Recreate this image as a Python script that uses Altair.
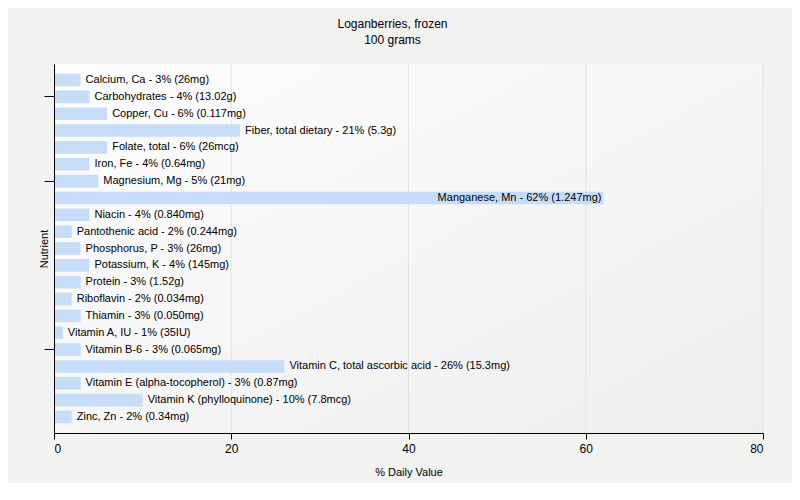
import altair as alt
import pandas as pd

nutrients = [
    "Calcium, Ca", "Carbohydrates", "Copper, Cu", "Fiber, total dietary", "Folate, total",
    "Iron, Fe", "Magnesium, Mg", "Manganese, Mn", "Niacin", "Pantothenic acid",
    "Phosphorus, P", "Potassium, K", "Protein", "Riboflavin", "Thiamin",
    "Vitamin A, IU", "Vitamin B-6", "Vitamin C, total ascorbic acid",
    "Vitamin E (alpha-tocopherol)", "Vitamin K (phylloquinone)", "Zinc, Zn",
]
daily_values = [3, 4, 6, 21, 6, 4, 5, 62, 4, 2, 3, 4, 3, 2, 3, 1, 3, 26, 3, 10, 2]
amounts = [
    "26mg", "13.02g", "0.117mg", "5.3g", "26mcg", "0.64mg", "21mg", "1.247mg", "0.840mg",
    "0.244mg", "26mg", "145mg", "1.52g", "0.034mg", "0.050mg", "35IU", "0.065mg",
    "15.3mg", "0.87mg", "7.8mcg", "0.34mg",
]
tick_nutrients = ["Carbohydrates", "Magnesium, Mg", "Vitamin B-6"]
inside_nutrients = ["Manganese, Mn"]
x_ticks = [0, 20, 40, 60, 80]
grid_values = [20, 40, 60, 80]

df = pd.DataFrame({"nutrient": nutrients, "dv": daily_values, "amount": amounts})
df["label"] = df["nutrient"] + " - " + df["dv"].astype(str) + "% (" + df["amount"] + ")"
df["inside"] = df["nutrient"].isin(inside_nutrients)

FONT = "Liberation Sans"

y_enc = alt.Y(
    "nutrient:N",
    sort=nutrients,
    title="Nutrient",
    scale=alt.Scale(paddingInner=0.25, paddingOuter=0.575),
    axis=alt.Axis(
        labels=False, values=tick_nutrients, tickSize=10, tickColor="black",
        domainColor="black", titleFontWeight="normal", titleFontSize=11,
        titleFont=FONT, titleColor="black", titlePadding=-6, zindex=1,
    ),
)
x_enc = alt.X(
    "dv:Q",
    title="% Daily Value",
    scale=alt.Scale(domain=[0, 80]),
    axis=alt.Axis(
        values=x_ticks, grid=False, tickSize=6, zindex=1,
        tickColor="black", domainColor="black", labelFontSize=12, labelFont=FONT,
        labelColor="black", titleFontWeight="normal", titleFontSize=11,
        titleFont=FONT, titleColor="black", titlePadding=12, labelPadding=4,
    ),
)

bg = alt.Chart(pd.DataFrame({"one": [1]})).mark_rect(
    color=alt.LinearGradient(
        gradient="linear", x1=0, y1=0, x2=1, y2=1,
        stops=[alt.GradientStop(offset=0, color="#fdfdfd"),
               alt.GradientStop(offset=1, color="#eeeeee")],
    )
).encode(x=alt.value(0), x2=alt.value("width"), y=alt.value(0), y2=alt.value("height"))

grid = alt.Chart(pd.DataFrame({"g": grid_values})).mark_rule(
    color="#e3e3e3", strokeWidth=1
).encode(x=alt.X("g:Q", scale=alt.Scale(domain=[0, 80])))

base = alt.Chart(df)
bars = base.mark_bar(color="#c6dcf8").encode(y=y_enc, x=x_enc)
text_out = base.transform_filter("!datum.inside").mark_text(
    align="left", baseline="middle", dx=5, font=FONT, fontSize=11, color="black"
).encode(y=alt.Y("nutrient:N", sort=nutrients), x="dv:Q", text="label:N")
text_in = base.transform_filter("datum.inside").mark_text(
    align="right", baseline="middle", dx=-2, font=FONT, fontSize=11, color="black"
).encode(y=alt.Y("nutrient:N", sort=nutrients), x="dv:Q", text="label:N")

chart = alt.layer(bg, grid, bars, text_out, text_in).properties(
    width=709,
    height=369,
    title=alt.TitleParams(
        text="Loganberries, frozen", subtitle="100 grams", anchor="middle",
        fontSize=12, subtitleFontSize=12, fontWeight="normal", font=FONT,
        subtitleFont=FONT, color="black", subtitleColor="black", offset=17, dx=-16,
        subtitlePadding=4,
    ),
    background="#f2f2f1",
    padding={"left": 46, "top": 56, "right": 29, "bottom": 50},
    autosize=alt.AutoSizeParams(type="none"),
).configure_view(stroke=None)

chart.save("out.html", embed_options={"renderer": "svg", "actions": False})
